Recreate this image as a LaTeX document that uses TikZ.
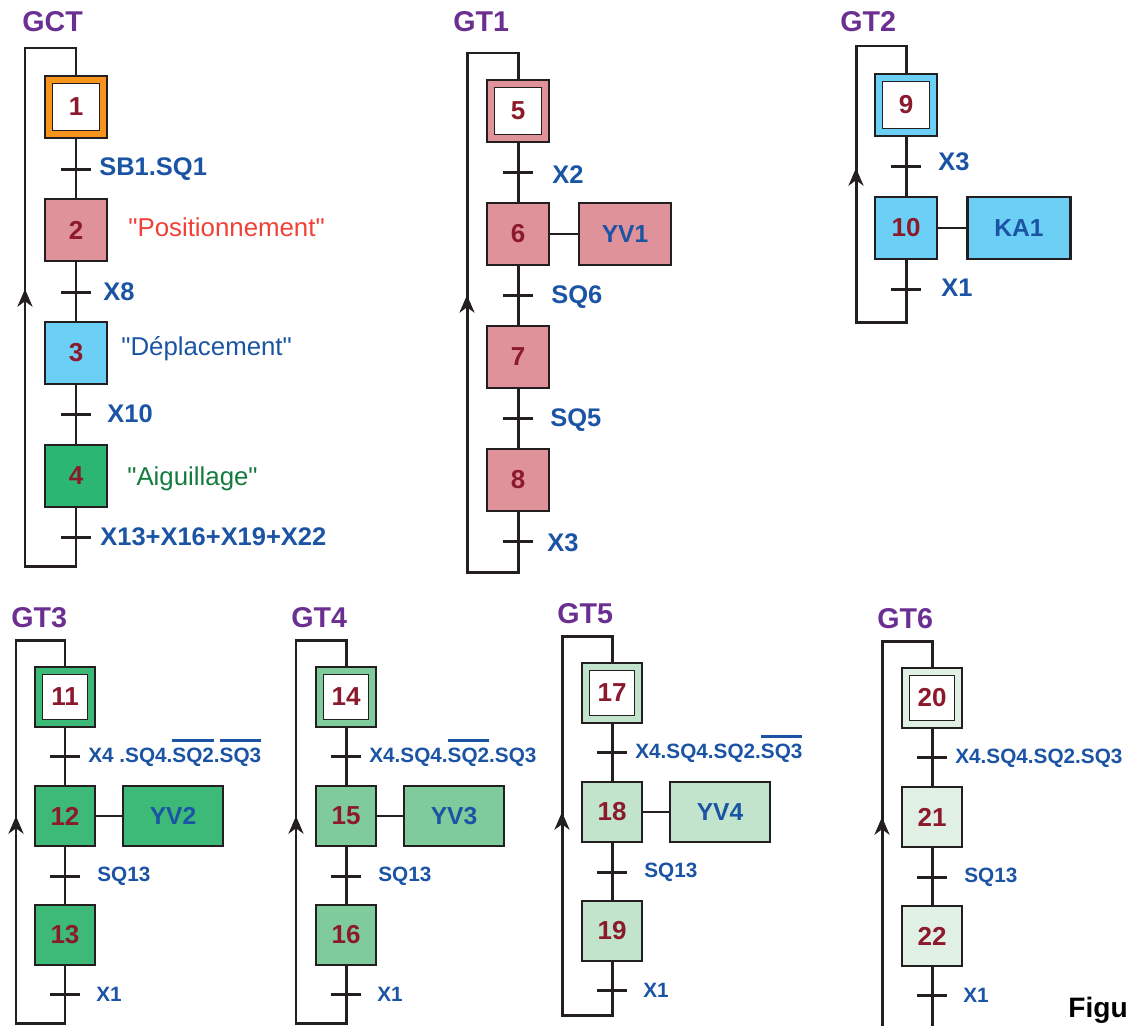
\documentclass[tikz,border=0pt]{standalone}
\usepackage{fontspec}
\setmainfont{Liberation Sans}
\usetikzlibrary{arrows.meta, positioning, calc}
\definecolor{mLine}{HTML}{231F20}
\definecolor{mNum}{HTML}{8B1A2C}
\definecolor{mLab}{HTML}{1B54A4}
\definecolor{mTitle}{HTML}{6B2F91}
\definecolor{mOrange}{HTML}{F7941D}
\definecolor{mPink}{HTML}{E0929B}
\definecolor{mSky}{HTML}{6BCFF6}
\definecolor{mGreen}{HTML}{2BB673}
\definecolor{mRed}{HTML}{EF4136}
\definecolor{mDarkGreen}{HTML}{137B3E}
\definecolor{mGtrois}{HTML}{3DBA78}
\definecolor{mGquatre}{HTML}{80CB9B}
\definecolor{mGcinq}{HTML}{C2E4CD}
\definecolor{mGsix}{HTML}{E0F0E4}

% barre de complement
\newsavebox{\barbox}
\newcommand{\compl}[1]{\sbox{\barbox}{#1}\smash{\rlap{\raisebox{\dimexpr\ht\barbox+3.5pt\relax}{\rule{\wd\barbox}{1.2pt}}}}\usebox{\barbox}}

\tikzset{
  lien/.style={draw=mLine, line width=1.7pt},
  fleche/.style={-{Stealth[length=10pt, width=8.5pt, inset=3pt]}},
  etape/.style={draw=mLine, line width=1.2pt, minimum width=1.24cm, minimum height=1.24cm,
    inner sep=0pt, text=mNum, font=\bfseries\fontsize{14.8}{17}\selectfont},
  petite/.style={minimum width=1.2cm, minimum height=1.2cm},
  init/.style={path picture={\draw[mLine, line width=1pt, fill=white]
    ([shift={(4.3pt,-4.3pt)}]path picture bounding box.north west) rectangle
    ([shift={(-4.3pt,4.3pt)}]path picture bounding box.south east);}},
  action/.style={draw=mLine, line width=1.2pt, minimum height=1.24cm, inner sep=0pt,
    text=mLab, font=\bfseries\fontsize{14}{16}\selectfont},
  titre/.style={anchor=west, inner sep=0pt, text=mTitle, font=\bfseries\fontsize{16.3}{19}\selectfont},
  cond/.style={anchor=west, inner sep=0pt, text=mLab, font=\bfseries\fontsize{14.5}{17}\selectfont},
  pcond/.style={anchor=west, inner sep=0pt, text=mLab, font=\bfseries\fontsize{11.8}{14}\selectfont},
  comm/.style={anchor=base west, inner sep=0pt, font=\fontsize{14.7}{17}\selectfont}
}

\begin{document}
\begin{tikzpicture}[x=0.02cm, y=-0.02cm]
  \useasboundingbox (0,0) rectangle (1131,1025);
  \clip (0,0) rectangle (1131,1025);

  % GCT
  \node[titre] (tGCT) at (22,22) {GCT};
  \node[etape, init, fill=mOrange] (e1) at (76,107) {1};
  \node[etape, fill=mPink] (e2) at (76,230) {2};
  \node[etape, fill=mSky] (e3) at (76,353) {3};
  \node[etape, fill=mGreen] (e4) at (76,476) {4};
  \coordinate (r1) at (76,169);
  \coordinate (r2) at (76,292);
  \coordinate (r3) at (76,414);
  \coordinate (r4) at (76,537);
  \coordinate (gctB) at (25,566);
  \coordinate (gctH) at (25,48);
  \draw[lien] (e1) -- (e2);
  \draw[lien] (e2) -- (e3);
  \draw[lien, line width=0.9pt] (e3) -- (e4);
  \draw[lien] (e4) -- (r4) |- (gctB) -- (gctH) -| (e1);
  \draw[lien, fleche] (gctB) -- (25,289);
  \foreach \r in {r1,r2,r3,r4}
    \draw[lien] ([xshift=-0.3cm]\r) -- ([xshift=0.3cm]\r);
  \node[cond] (c1) at (99,169) {SB1.SQ1};
  \node[cond] (c2) at (103,292) {X8};
  \node[cond] (c3) at (107,414) {X10};
  \node[cond] (c4) at (100,537) {X13+X16+X19+X22};
  \node[comm, text=mRed] (a2) at (128,236) {\textquotedbl Positionnement\textquotedbl};
  \node[comm, text=mLab] (a3) at (121,355) {\textquotedbl Déplacement\textquotedbl};
  \node[comm, text=mDarkGreen] (a4) at (127,485) {\textquotedbl Aiguillage\textquotedbl};

  % GT1
  \node[titre] (tGT1) at (453,22) {GT1};
  \node[etape, init, fill=mPink] (e5) at (518,111) {5};
  \node[etape, fill=mPink] (e6) at (518,234) {6};
  \node[etape, fill=mPink] (e7) at (518,357) {7};
  \node[etape, fill=mPink] (e8) at (518,480) {8};
  \node[action, fill=mPink, minimum width=1.84cm] (yv1) at (625,234) {YV1};
  \coordinate (r5) at (518,172);
  \coordinate (r6) at (518,295);
  \coordinate (r7) at (518,418);
  \coordinate (r8) at (518,541);
  \coordinate (gt1B) at (467,572);
  \coordinate (gt1H) at (467,53);
  \draw[lien] (e5) -- (e6);
  \draw[lien] (e6) -- (e7);
  \draw[lien] (e7) -- (e8);
  \draw[lien, line width=1.3pt] (e6) -- (yv1);
  \draw[lien] (e8) -- (r8) |- (gt1B) -- (gt1H) -| (e5);
  \draw[lien, fleche] (gt1B) -- (467,295);
  \foreach \r in {r5,r6,r7,r8}
    \draw[lien] ([xshift=-0.3cm]\r) -- ([xshift=0.3cm]\r);
  \node[cond] (c5) at (552,175) {X2};
  \node[cond] (c6) at (551,297) {SQ6};
  \node[cond] (c7) at (550,420) {SQ5};
  \node[cond] (c8) at (547,543) {X3};

  % GT2
  \node[titre] (tGT2) at (840,22) {GT2};
  \node[etape, init, fill=mSky] (e9) at (906,105) {9};
  \node[etape, fill=mSky] (e10) at (906,228) {10};
  \node[action, fill=mSky, minimum width=2.06cm] (ka1) at (1019,228) {KA1};
  \coordinate (r9) at (906,166);
  \coordinate (r10) at (906,289);
  \coordinate (gt2B) at (856,322);
  \coordinate (gt2H) at (856,46);
  \draw[lien] (e9) -- (e10);
  \draw[lien, line width=1.3pt] (e10) -- (ka1);
  \draw[lien] (e10) -- (r10) |- (gt2B) -- (gt2H) -| (e9);
  \draw[lien, fleche] (gt2B) -- (856,168);
  \foreach \r in {r9,r10}
    \draw[lien] ([xshift=-0.3cm]\r) -- ([xshift=0.3cm]\r);
  \node[cond] (c9) at (938,162) {X3};
  \node[cond] (c10) at (941,288) {X1};

  % GT3 a GT6
  \foreach \a/\cx/\ty/\lx/\col/\cnd/\bas in {
      11/65/667/16/mGtrois/{X4 .SQ4.\compl{SQ2}.\compl{SQ3}}/1023,
      14/346/667/296/mGquatre/{X4.SQ4.\compl{SQ2}.SQ3}/1023,
      17/612/663/562/mGcinq/{X4.SQ4.SQ2.\compl{SQ3}}/1015,
      20/932/668/882/mGsix/{X4.SQ4.SQ2.SQ3}/1045} {
    \pgfmathtruncatemacro\eb{\a+1}
    \pgfmathtruncatemacro\ec{\a+2}
    \pgfmathtruncatemacro\gn{(\a-11)/3+3}
    \pgfmathtruncatemacro\yv{\gn-1}
    \node[titre] (tGT\gn) at (\lx-5,\ty-49) {GT\gn};
    \node[etape, petite, init, fill=\col] (e\a) at (\cx,\ty+30) {\a};
    \node[etape, petite, fill=\col] (e\eb) at (\cx,\ty+149) {\eb};
    \node[etape, petite, fill=\col] (e\ec) at (\cx,\ty+268) {\ec};
    \coordinate (r\a) at (\cx,\ty+89);
    \coordinate (r\eb) at (\cx,\ty+209);
    \coordinate (r\ec) at (\cx,\ty+327);
    \coordinate (gt\gn B) at (\lx,\bas);
    \coordinate (gt\gn H) at (\lx,\ty-27);
    \draw[lien] (e\a) -- (e\eb);
    \draw[lien] (e\eb) -- (e\ec);
    \draw[lien] (e\ec) -- (r\ec) |- (gt\gn B) -- (gt\gn H) -| (e\a);
    \draw[lien, fleche] (gt\gn B) -- (\lx,\ty+149);
    \foreach \r in {r\a,r\eb,r\ec}
      \draw[lien] ([xshift=-0.3cm]\r) -- ([xshift=0.3cm]\r);
    \node[pcond] (c\a) at (\cx+23,\ty+90) {\cnd};
    \node[pcond] (c\eb) at (\cx+32,\ty+209) {SQ13};
    \node[pcond] (c\ec) at (\cx+31,\ty+327) {X1};
    \ifnum\a<20
      \node[action, petite, fill=\col, minimum width=2cm] (yv\yv) at (\cx+108,\ty+149) {YV\yv};
      \draw[lien, line width=1.3pt] (e\eb) -- (yv\yv);
    \fi
  }

  \node[anchor=base west, inner sep=0pt, font=\bfseries\fontsize{16}{19}\selectfont] (fig) at (1068,1017) {Figu};
\end{tikzpicture}
\end{document}
